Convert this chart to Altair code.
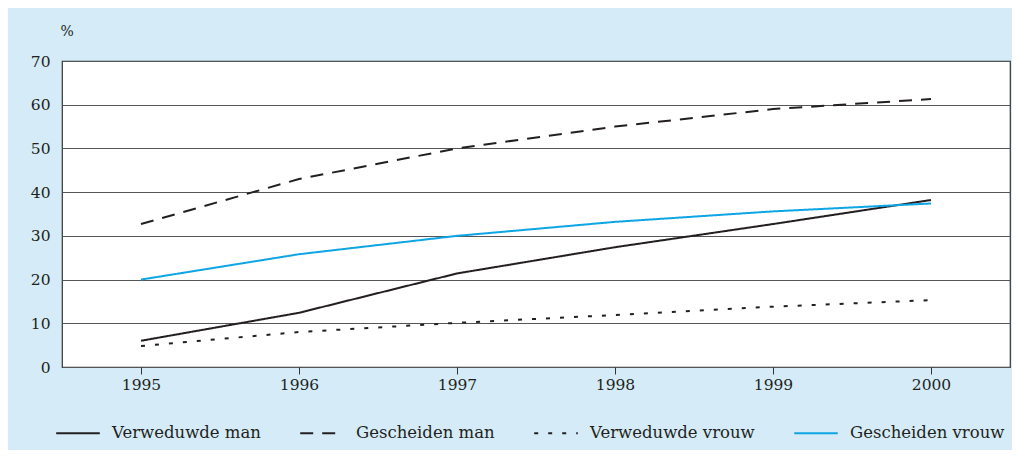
import altair as alt
import pandas as pd

years = [1995, 1996, 1997, 1998, 1999, 2000]
series_names = ["Verweduwde man", "Gescheiden man", "Verweduwde vrouw", "Gescheiden vrouw"]
verweduwde_man = [6.0, 12.4, 21.4, 27.4, 32.7, 38.2]
gescheiden_man = [32.7, 43.0, 50.0, 55.0, 59.0, 61.3]
verweduwde_vrouw = [4.8, 8.0, 10.1, 11.9, 13.8, 15.3]
gescheiden_vrouw = [20.0, 25.8, 30.0, 33.2, 35.6, 37.4]
y_ticks = [0, 10, 20, 30, 40, 50, 60, 70]

values = [verweduwde_man, gescheiden_man, verweduwde_vrouw, gescheiden_vrouw]
rows = []
for name, vals in zip(series_names, values):
    for yr, v in zip(years, vals):
        rows.append({"jaar": yr, "pct": v, "reeks": name})
df = pd.DataFrame(rows)

FONT = "DejaVu Serif"
TXT = "#231f20"

chart = alt.Chart(df).mark_line(strokeWidth=2).encode(
    x=alt.X("jaar:Q",
            scale=alt.Scale(domain=[1994.5, 2000.5], nice=False, zero=False),
            axis=alt.Axis(values=years, format="d", title=None, grid=False,
                          tickSize=7, tickColor="#333", domain=False,
                          labelPadding=3, labelFontSize=15.5, labelFont=FONT,
                          labelColor=TXT)),
    y=alt.Y("pct:Q",
            scale=alt.Scale(domain=[0, 70], nice=False),
            axis=alt.Axis(values=y_ticks, title="%", titleAngle=0,
                          titleX=-2, titleY=-26, titleAlign="left",
                          titleBaseline="alphabetic", titleFont=FONT,
                          titleFontSize=14, titleFontWeight="normal",
                          titleColor=TXT,
                          ticks=False, domain=False, labelPadding=12,
                          labelFontSize=15.5, labelFont=FONT, labelColor=TXT,
                          grid=True, gridColor="#555", gridWidth=1)),
    color=alt.Color("reeks:N",
                    scale=alt.Scale(domain=series_names,
                                    range=[TXT, TXT, TXT, "#0ea5e4"]),
                    legend=alt.Legend(title=None, orient="none", legendX=-7,
                                      legendY=349, direction="horizontal",
                                      columns=4, columnPadding=35,
                                      symbolType="stroke", symbolSize=1900,
                                      symbolStrokeWidth=2, labelOffset=11,
                                      labelFont=FONT, labelFontSize=16.5,
                                      labelColor=TXT, labelLimit=300)),
    strokeDash=alt.StrokeDash("reeks:N",
                              scale=alt.Scale(domain=series_names,
                                              range=[[1, 0], [13, 9], [4, 10], [1, 0]]),
                              legend=None),
).properties(
    width=948,
    height=306,
    autosize=alt.AutoSizeParams(type="none"),
    padding={"left": 54, "top": 53, "right": 2, "bottom": 83},
).configure(
    background="#d5ecf8",
).configure_view(
    fill="white", stroke="#333", strokeWidth=1.2
)

chart.save("out.html", embed_options={"renderer": "svg", "actions": False})
